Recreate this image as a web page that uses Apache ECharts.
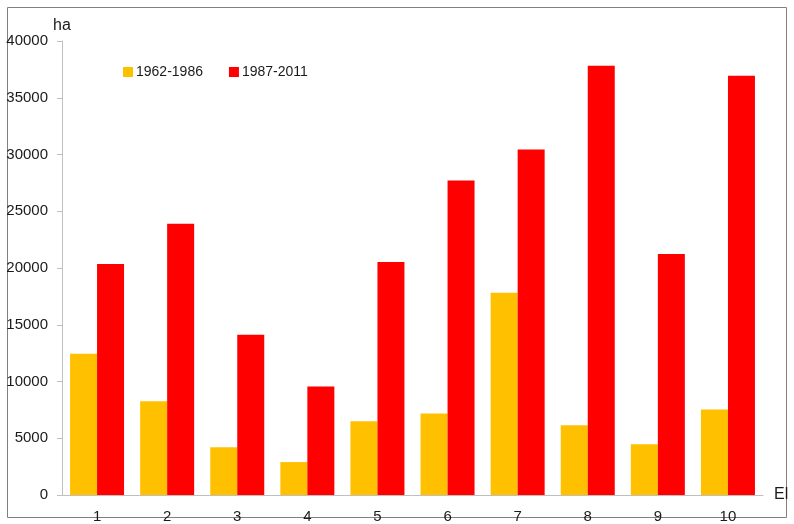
<!DOCTYPE html>
<html>
<head>
<meta charset="utf-8">
<script src="https://cdn.jsdelivr.net/npm/echarts@6/dist/echarts.min.js"></script>
<style>
  html, body { margin: 0; padding: 0; background: #fff; }
  #main { width: 794px; height: 524px; }
</style>
</head>
<body>
<div id="main"></div>
<script>
var categories = ['1', '2', '3', '4', '5', '6', '7', '8', '9', '10'];
var early = [12450, 8250, 4210, 2900, 6490, 7190, 17810, 6140, 4470, 7540];
var late = [20350, 23900, 14120, 9560, 20530, 27720, 30440, 37810, 21230, 36930];
var seriesNames = ['1962-1986', '1987-2011'];

var chart = echarts.init(document.getElementById('main'));

var option = {
  backgroundColor: '#ffffff',
  animation: false,
  textStyle: { fontFamily: 'Liberation Sans, Arial, sans-serif' },
  graphic: [{
    type: 'rect',
    shape: { x: 7.5, y: 7.5, width: 779, height: 510 },
    style: { fill: 'none', stroke: '#808080', lineWidth: 1 },
    silent: true
  }],
  legend: {
    left: 118,
    top: 60,
    itemWidth: 10,
    itemHeight: 10,
    itemGap: 26,
    icon: 'rect',
    textStyle: { fontSize: 14, color: '#1a1a1a', padding: [0, 0, 0, -2] },
    data: seriesNames
  },
  grid: { left: 62, top: 41, right: 31, bottom: 27 },
  xAxis: {
    type: 'category',
    data: categories,
    name: 'El',
    nameLocation: 'end',
    nameGap: 11,
    nameTextStyle: { fontSize: 16, color: '#1a1a1a', verticalAlign: 'middle' },
    axisLine: { lineStyle: { color: '#bfbfbf', width: 1 } },
    axisTick: { length: 5, lineStyle: { color: '#bfbfbf' } },
    axisLabel: { fontSize: 15, color: '#1a1a1a', margin: 14 }
  },
  yAxis: {
    type: 'value',
    min: 0,
    max: 40000,
    interval: 5000,
    name: 'ha',
    nameLocation: 'end',
    nameGap: 12,
    nameTextStyle: { fontSize: 16, color: '#1a1a1a', align: 'center', verticalAlign: 'middle' },
    axisLine: { show: true, lineStyle: { color: '#bfbfbf', width: 1 } },
    axisTick: { show: true, length: 5, lineStyle: { color: '#bfbfbf' } },
    splitLine: { show: false },
    axisLabel: { fontSize: 15, color: '#1a1a1a', margin: 14, formatter: function (v) { return String(v); } }
  },
  series: [{
    name: seriesNames[0],
    type: 'bar',
    data: early,
    barWidth: 27,
    barGap: '0%',
    itemStyle: { color: '#ffc000' }
  }, {
    name: seriesNames[1],
    type: 'bar',
    data: late,
    barWidth: 27,
    barGap: '0%',
    itemStyle: { color: '#ff0000' }
  }]
};

chart.setOption(option);
</script>
</body>
</html>
